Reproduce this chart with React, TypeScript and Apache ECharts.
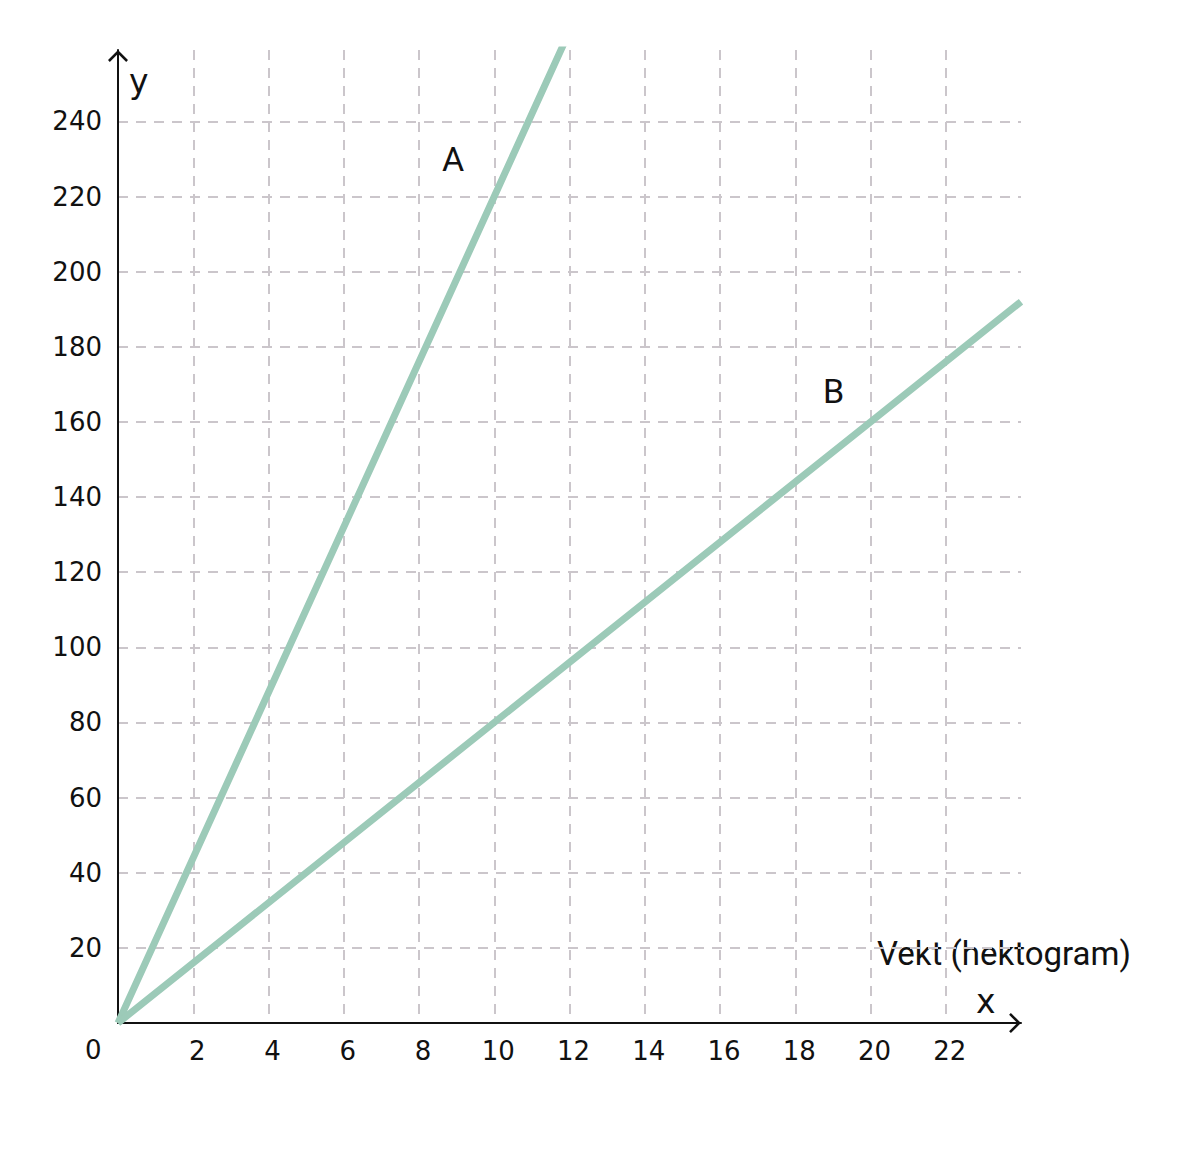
import React, { useEffect, useRef } from 'react';
import * as echarts from 'echarts';
import type { EChartsOption } from 'echarts';

// line A and B, straight lines through the origin (clipped at the grid edge)
const seriesA: [number, number][] = [[0, 0], [10, 220], [12, 264]];
const seriesB: [number, number][] = [[0, 0], [20, 160], [24, 192]];

const xTicks = [2, 4, 6, 8, 10, 12, 14, 16, 18, 20, 22];
const yTicks = [20, 40, 60, 80, 100, 120, 140, 160, 180, 200, 220, 240];

const LINE = '#9ccab8';
const GRID = '#cbc6cb';
const TICK_FONT = '"DejaVu Sans", Verdana, sans-serif';
const TEXT_FONT = 'Roboto, "Noto Sans", sans-serif';

// open chevron, pointing up; echarts turns it for the x axis
const chevron = 'path://M0,10 L10,0 L20,10 L18.2,11.8 L10,3.6 L1.8,11.8 Z';

const App: React.FC = () => {
  const chartRef = useRef<HTMLDivElement>(null);

  useEffect(() => {
    if (!chartRef.current) return;
    const chart = echarts.init(chartRef.current, undefined, { renderer: 'svg' });

    const option: EChartsOption = {
      animation: false,
      backgroundColor: 'transparent',
      grid: { left: 110, right: 156, top: 42, bottom: 139, containLabel: false },
      xAxis: {
        type: 'value',
        min: 0,
        max: 24,
        interval: 2,
        axisLine: {
          show: true,
          onZero: false,
          symbol: ['none', chevron],
          symbolSize: [20, 12],
          symbolOffset: [0, -6],
          lineStyle: { color: '#111', width: 2 },
        },
        axisTick: { show: false },
        axisLabel: {
          color: '#111',
          fontFamily: TICK_FONT,
          fontSize: 26,
          margin: 15,
          padding: [0, 0, 0, 8],
          formatter: (v: number) => (xTicks.includes(v) ? String(v) : ''),
        },
        splitLine: {
          show: true,
          showMinLine: false,
          showMaxLine: false,
          lineStyle: { color: GRID, width: 2, type: [10, 8] },
        },
      },
      yAxis: {
        type: 'value',
        min: 0,
        max: 259,
        interval: 20,
        axisLine: {
          show: true,
          onZero: false,
          symbol: ['none', chevron],
          symbolSize: [20, 12],
          symbolOffset: [0, -6],
          lineStyle: { color: '#111', width: 2 },
        },
        axisTick: { show: false },
        axisLabel: {
          color: '#111',
          fontFamily: TICK_FONT,
          fontSize: 26,
          margin: 16,
          formatter: (v: number) => (yTicks.includes(v) ? String(v) : ''),
        },
        splitLine: {
          show: true,
          showMinLine: false,
          showMaxLine: false,
          lineStyle: { color: GRID, width: 2, type: [10, 8] },
        },
      },
      series: [
        {
          name: 'A',
          type: 'line',
          data: seriesA,
          showSymbol: false,
          clip: true,
          lineStyle: { color: LINE, width: 7 },
        },
        {
          name: 'B',
          type: 'line',
          data: seriesB,
          showSymbol: false,
          clip: true,
          lineStyle: { color: LINE, width: 7 },
        },
      ],
      graphic: [
        { type: 'text', left: 77, top: 1029, style: { text: '0', font: `26px ${TICK_FONT}`, fill: '#111' } },
        { type: 'text', left: 121, top: 57, style: { text: 'y', font: `33px ${TICK_FONT}`, fill: '#111' } },
        { type: 'text', left: 968, top: 977, style: { text: 'x', font: `33px ${TICK_FONT}`, fill: '#111' } },
        { type: 'text', left: 869, top: 929, style: { text: 'Vekt (hektogram)', font: `33px ${TEXT_FONT}`, fill: '#111' } },
        { type: 'text', left: 434, top: 134, style: { text: 'A', font: `34px ${TEXT_FONT}`, fill: '#111' } },
        { type: 'text', left: 815, top: 366, style: { text: 'B', font: `34px ${TEXT_FONT}`, fill: '#111' } },
      ],
    };

    chart.setOption(option);
    return () => chart.dispose();
  }, []);

  return <div ref={chartRef} style={{ width: 1169, height: 1154 }} />;
};

export default App;
